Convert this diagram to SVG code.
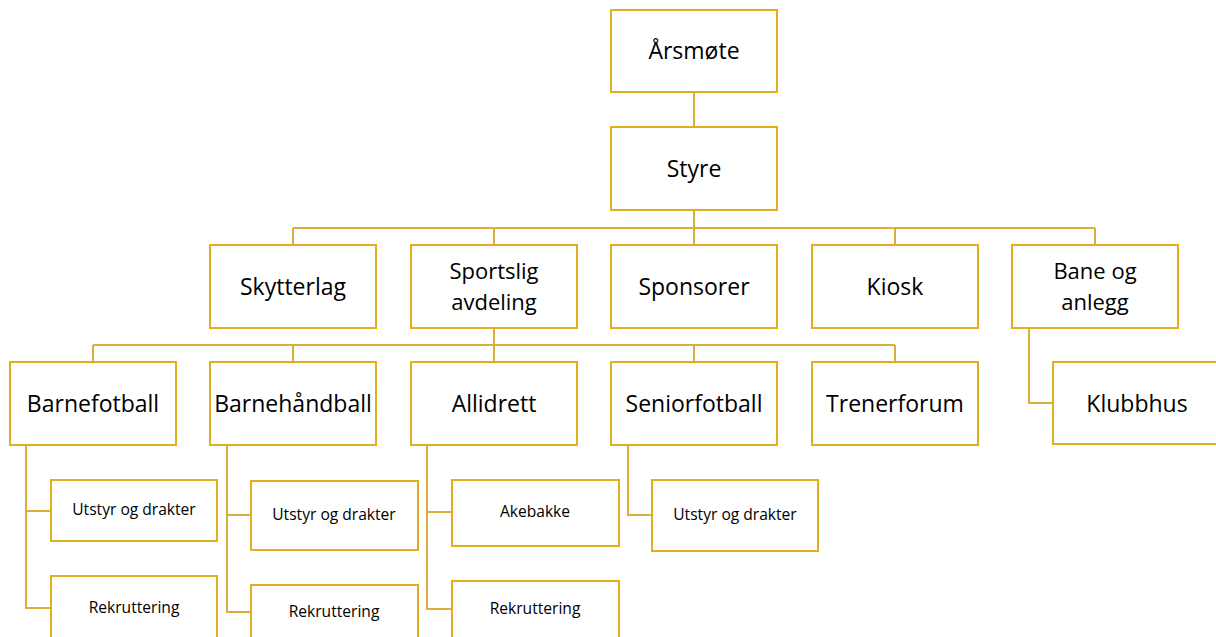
<svg xmlns="http://www.w3.org/2000/svg" width="1216" height="637" viewBox="0 0 1216 637">
<style>
.box{fill:#fff;stroke:#E3AE1C;stroke-width:2}
.ln{fill:none;stroke:#D9AE3C;stroke-width:2}
.t{font-family:"Open Sans","Noto Sans",sans-serif;fill:#000;text-anchor:middle}
.l{font-size:23px}
.m{font-size:22px}
.s{font-size:15.6px}
</style>
<rect width="1216" height="637" fill="#fff"/>
<g id="connectors">
<path class="ln" d="M694 92V127M694 210V245M293 228H1095M293 228V245M494 228V245M895 228V245M1095 228V245"/>
<path class="ln" d="M494 328V362M93 345H895M93 345V362M293 345V362M694 345V362M895 345V362"/>
<path class="ln" d="M26 445V608H51M26 511H51"/>
<path class="ln" d="M227 445V612H251M227 515H251"/>
<path class="ln" d="M427 445V609H452M427 512H452"/>
<path class="ln" d="M628 445V515H652"/>
<path class="ln" d="M1029 328V403H1053"/>
</g>
<g id="aarsmote"><rect class="box" x="611" y="10" width="166" height="82"/><text class="t l" x="694" y="59">Årsmøte</text></g>
<g id="styre"><rect class="box" x="611" y="127" width="166" height="83"/><text class="t l" x="694" y="177">Styre</text></g>
<g id="skytterlag"><rect class="box" x="210" y="245" width="166" height="83"/><text class="t l" x="293" y="295">Skytterlag</text></g>
<g id="sportslig"><rect class="box" x="411" y="245" width="166" height="83"/><text class="t m" x="494" y="279">Sportslig</text><text class="t m" x="494" y="310">avdeling</text></g>
<g id="sponsorer"><rect class="box" x="611" y="245" width="166" height="83"/><text class="t l" x="694" y="295">Sponsorer</text></g>
<g id="kiosk"><rect class="box" x="812" y="245" width="166" height="83"/><text class="t l" x="895" y="295">Kiosk</text></g>
<g id="bane"><rect class="box" x="1012" y="245" width="166" height="83"/><text class="t m" x="1095" y="279">Bane og</text><text class="t m" x="1095" y="310">anlegg</text></g>
<g id="barnefotball"><rect class="box" x="10" y="362" width="166" height="83"/><text class="t l" x="93" y="412">Barnefotball</text></g>
<g id="barnehandball"><rect class="box" x="210" y="362" width="166" height="83"/><text class="t l" x="293" y="412">Barnehåndball</text></g>
<g id="allidrett"><rect class="box" x="411" y="362" width="166" height="83"/><text class="t l" x="494" y="412">Allidrett</text></g>
<g id="seniorfotball"><rect class="box" x="611" y="362" width="166" height="83"/><text class="t l" x="694" y="412">Seniorfotball</text></g>
<g id="trenerforum"><rect class="box" x="812" y="362" width="166" height="83"/><text class="t l" x="895" y="412">Trenerforum</text></g>
<g id="klubbhus"><rect class="box" x="1053" y="362" width="170" height="82"/><text class="t l" x="1137" y="412">Klubbhus</text></g>
<g id="bf-utstyr"><rect class="box" x="51" y="480" width="166" height="61"/><text class="t s" x="134" y="515">Utstyr og drakter</text></g>
<g id="bf-rekruttering"><rect class="box" x="51" y="576" width="166" height="70"/><text class="t s" x="134" y="613">Rekruttering</text></g>
<g id="bh-utstyr"><rect class="box" x="251" y="481" width="167" height="69"/><text class="t s" x="334" y="520">Utstyr og drakter</text></g>
<g id="bh-rekruttering"><rect class="box" x="251" y="585" width="167" height="60"/><text class="t s" x="334" y="617">Rekruttering</text></g>
<g id="akebakke"><rect class="box" x="452" y="480" width="167" height="66"/><text class="t s" x="535" y="517">Akebakke</text></g>
<g id="al-rekruttering"><rect class="box" x="452" y="581" width="167" height="65"/><text class="t s" x="535" y="614">Rekruttering</text></g>
<g id="sf-utstyr"><rect class="box" x="652" y="480" width="166" height="71"/><text class="t s" x="735" y="520">Utstyr og drakter</text></g>
</svg>
